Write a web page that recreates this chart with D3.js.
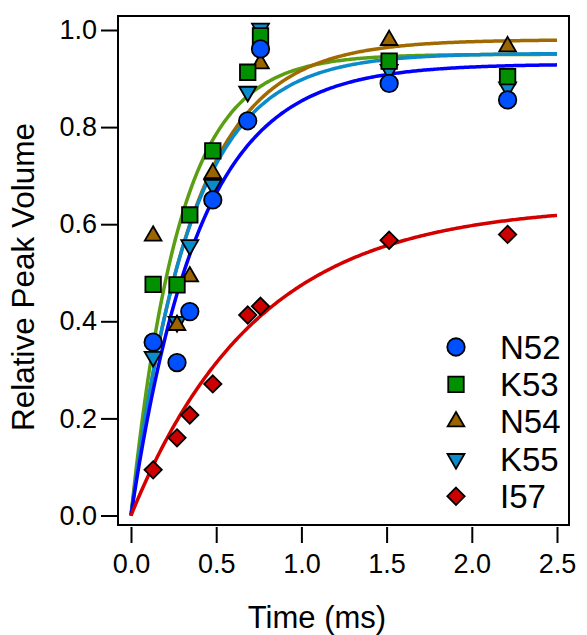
<!DOCTYPE html>
<html>
<head>
<meta charset="utf-8">
<script src="https://cdn.jsdelivr.net/npm/d3@7"></script>
<style>
  html, body { margin: 0; padding: 0; background: #fff; }
  svg { display: block; font-family: "Liberation Sans", Arial, Helvetica, sans-serif; }
</style>
</head>
<body>
<svg id="chart" width="587" height="635"></svg>
<script>
// Sampling times (ms) shared by all residues
const times = [0.13, 0.27, 0.345, 0.48, 0.685, 0.76, 1.515, 2.21];

// Relative peak volumes per residue (null = not measured)
const seriesNames = ["N52", "K53", "N54", "K55", "I57"];
const valuesN52 = [0.357, 0.315, 0.420, 0.650, 0.813, 0.961, 0.890, 0.856];
const valuesK53 = [0.476, 0.475, 0.619, 0.751, 0.913, 0.988, 0.936, 0.904];
const valuesN54 = [0.576, 0.392, 0.492, 0.705, null, 0.931, 0.979, 0.966];
const valuesK55 = [0.327, 0.399, 0.557, 0.681, 0.873, 1.003, 0.918, 0.882];
const valuesI57 = [0.094, 0.160, 0.207, 0.271, 0.413, 0.431, 0.567, 0.579];

// Single-exponential fit parameters: V(t) = A * (1 - exp(-t / tau))
const fitAmplitude = [0.930, 0.950, 0.980, 0.952, 0.640];
const fitTau       = [0.400, 0.285, 0.365, 0.350, 0.740];

const xTicks = [0, 0.5, 1.0, 1.5, 2.0, 2.5];
const yTicks = [0, 0.2, 0.4, 0.6, 0.8, 1.0];

const lineColors   = ["#0000ff", "#5a9e12", "#a06a00", "#0a8ccc", "#d40000"];
const markerColors = ["#0050ff", "#009000", "#9a6400", "#0a8ccc", "#cc0000"];

const svg = d3.select("#chart");

const x = d3.scaleLinear().domain([0, 2.5]).range([131, 557]);
const y = d3.scaleLinear().domain([0, 1]).range([515.5, 30]);

// Plot frame
svg.append("rect")
  .attr("x", 118).attr("y", 16)
  .attr("width", 451).attr("height", 509)
  .attr("fill", "none").attr("stroke", "#000").attr("stroke-width", 2);

// Y axis
const yAxis = svg.append("g")
  .attr("transform", "translate(118,0)")
  .call(d3.axisLeft(y).tickValues(yTicks).tickFormat(d3.format(".1f")).tickSize(17).tickPadding(4));
yAxis.select(".domain").remove();
yAxis.selectAll("line").attr("stroke", "#000").attr("stroke-width", 2);
yAxis.selectAll("text").attr("font-size", 27).attr("fill", "#000")
  .attr("font-family", "Liberation Sans, Arial, sans-serif");

// X axis
const xAxis = svg.append("g")
  .attr("transform", "translate(0,527)")
  .call(d3.axisBottom(x).tickValues(xTicks).tickFormat(d3.format(".1f")).tickSize(16).tickPadding(11));
xAxis.select(".domain").remove();
xAxis.selectAll("line").attr("stroke", "#000").attr("stroke-width", 2);
xAxis.selectAll("text").attr("font-size", 27).attr("fill", "#000")
  .attr("font-family", "Liberation Sans, Arial, sans-serif");

// Axis titles
svg.append("text")
  .attr("x", 317).attr("y", 628)
  .attr("text-anchor", "middle")
  .attr("font-size", 31)
  .text("Time (ms)");

svg.append("text")
  .attr("transform", "translate(34,277) rotate(-90)")
  .attr("text-anchor", "middle")
  .attr("font-size", 31.5)
  .text("Relative Peak Volume");

// Fitted curves
const curveT = d3.range(0, 2.5001, 0.01);
const line = d3.line().x(d => x(d[0])).y(d => y(d[1]));
const curveOrder = [1, 2, 3, 0, 4];
curveOrder.forEach(i => {
  const pts = curveT.map(t => [t, fitAmplitude[i] * (1 - Math.exp(-t / fitTau[i]))]);
  svg.append("path")
    .attr("d", line(pts))
    .attr("fill", "none")
    .attr("stroke", lineColors[i])
    .attr("stroke-width", 3.5);
});

// Marker shapes
const downTriangle = {
  draw(ctx, size) {
    const s = Math.sqrt(size * 4 / Math.sqrt(3));
    const h = s * Math.sqrt(3) / 2;
    ctx.moveTo(-s / 2, -h / 3);
    ctx.lineTo(s / 2, -h / 3);
    ctx.lineTo(0, 2 * h / 3);
    ctx.closePath();
  }
};
const diamond = {
  draw(ctx, size) {
    const r = Math.sqrt(size / 2);
    ctx.moveTo(0, -r);
    ctx.lineTo(r, 0);
    ctx.lineTo(0, r);
    ctx.lineTo(-r, 0);
    ctx.closePath();
  }
};
const symbolTypes = [d3.symbolCircle, d3.symbolSquare, d3.symbolTriangle, downTriangle, diamond];
const symbolSizes = [240, 240, 120, 125, 150];
const allValues = [valuesN52, valuesK53, valuesN54, valuesK55, valuesI57];

// Draw order of the marker layers
const markerOrder = [3, 2, 1, 0, 4];
markerOrder.forEach(i => {
  const pts = times.map((t, k) => ({ t, v: allValues[i][k] })).filter(d => d.v !== null);
  svg.append("g").selectAll("path")
    .data(pts)
    .join("path")
    .attr("transform", d => `translate(${x(d.t)},${y(d.v)})`)
    .attr("d", d3.symbol().type(symbolTypes[i]).size(symbolSizes[i]))
    .attr("fill", markerColors[i])
    .attr("stroke", "#000")
    .attr("stroke-width", 1.8);
});

// Legend
const legend = svg.append("g");
seriesNames.forEach((name, i) => {
  const cy = 347 + i * 37.3;
  legend.append("path")
    .attr("transform", `translate(456,${cy})`)
    .attr("d", d3.symbol().type(symbolTypes[i]).size(symbolSizes[i]))
    .attr("fill", markerColors[i])
    .attr("stroke", "#000")
    .attr("stroke-width", 1.8);
  legend.append("text")
    .attr("x", 500).attr("y", cy)
    .attr("dy", "0.36em")
    .attr("font-size", 33)
    .text(name);
});
</script>
</body>
</html>
